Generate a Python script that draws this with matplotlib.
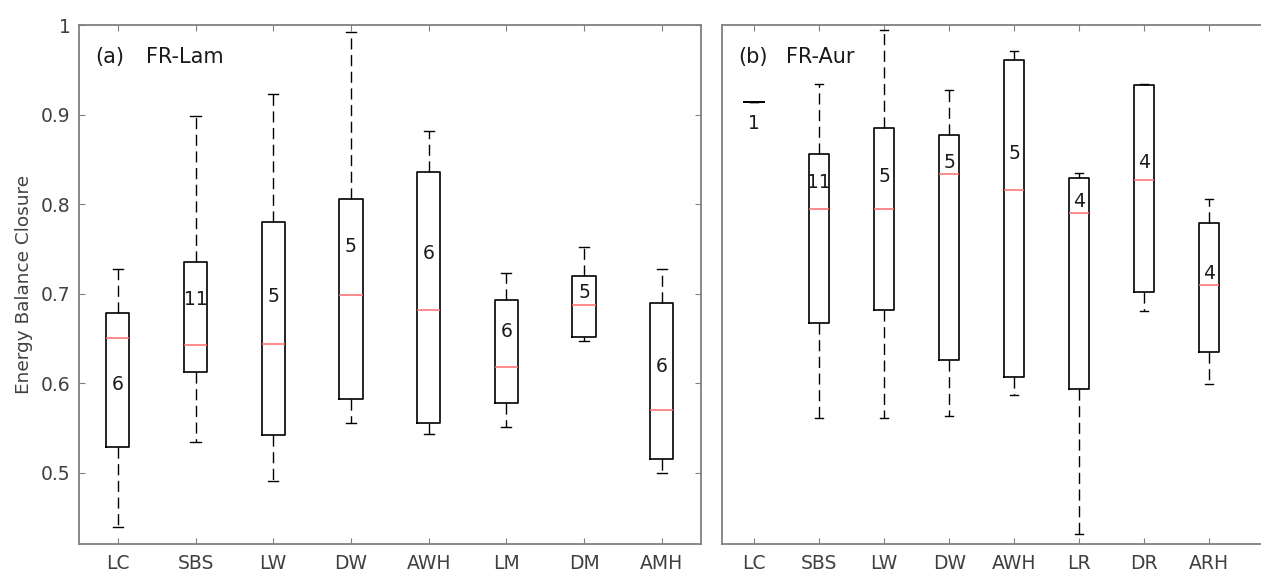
import numpy as np
import matplotlib
matplotlib.use("Agg")
import matplotlib.pyplot as plt

# (a) FR-Lam
labels_a = ["LC", "SBS", "LW", "DW", "AWH", "LM", "DM", "AMH"]
whislo_a = [0.439, 0.534, 0.491, 0.555, 0.543, 0.551, 0.647, 0.500]
q1_a     = [0.529, 0.612, 0.542, 0.582, 0.556, 0.578, 0.652, 0.515]
med_a    = [0.651, 0.643, 0.644, 0.698, 0.682, 0.618, 0.687, 0.570]
q3_a     = [0.678, 0.735, 0.780, 0.806, 0.836, 0.693, 0.720, 0.690]
whishi_a = [0.728, 0.898, 0.923, 0.992, 0.882, 0.723, 0.752, 0.728]
n_a      = [6, 11, 5, 5, 6, 6, 5, 6]
mean_a   = [0.599, 0.693, 0.697, 0.753, 0.745, 0.658, 0.701, 0.619]

# (b) FR-Aur
labels_b = ["LC", "SBS", "LW", "DW", "AWH", "LR", "DR", "ARH"]
whislo_b = [0.914, 0.561, 0.561, 0.563, 0.587, 0.432, 0.681, 0.599]
q1_b     = [0.914, 0.667, 0.682, 0.626, 0.607, 0.594, 0.702, 0.635]
med_b    = [0.914, 0.794, 0.794, 0.834, 0.816, 0.790, 0.827, 0.710]
q3_b     = [0.914, 0.856, 0.885, 0.877, 0.961, 0.829, 0.933, 0.779]
whishi_b = [0.914, 0.934, 0.995, 0.927, 0.971, 0.835, 0.934, 0.806]
n_b      = [1, 11, 5, 5, 5, 4, 4, 4]
mean_b   = [0.890, 0.824, 0.831, 0.847, 0.856, 0.803, 0.846, 0.723]

SPINE = "#808080"
TXT = "#404040"
MED = "#ff6b6b"


def make_stats(lo, q1, med, q3, hi):
    return [dict(whislo=a, q1=b, med=c, q3=d, whishi=e, fliers=[])
            for a, b, c, d, e in zip(lo, q1, med, q3, hi)]


def draw_panel(ax, stats, n, ypos, labels, black_median=()):
    for i, st in enumerate(stats):
        mcol = "black" if i in black_median else MED
        ax.bxp([st], positions=[i + 1], widths=0.3, capwidths=0.13,
               showfliers=False, manage_ticks=False,
               boxprops=dict(color="black", linewidth=1.2),
               medianprops=dict(color=mcol, linewidth=1.1),
               whiskerprops=dict(color="black", linewidth=1.0, linestyle=(0, (8, 4))),
               capprops=dict(color="black", linewidth=1.0))
        ax.text(i + 1, ypos[i], str(n[i]), ha="center", va="center",
                fontsize=13.5, color="#1a1a1a")
    ax.set_ylim(0.42, 1.0)
    ax.set_xticks(range(1, len(labels) + 1))
    ax.set_xticklabels(labels)
    ax.tick_params(direction="in", length=4, color=SPINE, labelcolor=TXT,
                   labelsize=13.5, top=True, pad=7)
    for s in ax.spines.values():
        s.set_color(SPINE)
        s.set_linewidth(1.3)


fig = plt.figure(figsize=(12.61, 5.74), dpi=100)
ax1 = fig.add_axes([0.0626, 0.0517, 0.493, 0.9047])
ax2 = fig.add_axes([0.5723, 0.0517, 0.4293, 0.9047])

draw_panel(ax1, make_stats(whislo_a, q1_a, med_a, q3_a, whishi_a), n_a, mean_a, labels_a)
ax1.set_xlim(0.5, 8.5)
ax1.set_yticks([0.5, 0.6, 0.7, 0.8, 0.9, 1.0])
ax1.set_yticklabels(["0.5", "0.6", "0.7", "0.8", "0.9", "1"])
ax1.tick_params(axis="y", right=True, pad=6)
ax1.set_ylabel("Energy Balance Closure", fontsize=13.3, color=TXT, labelpad=6)
ax1.text(0.026, 0.938, "(a)", transform=ax1.transAxes, fontsize=15,
         va="center", color="#1a1a1a")
ax1.text(0.108, 0.938, "FR-Lam", transform=ax1.transAxes, fontsize=15,
         va="center", color="#1a1a1a")

draw_panel(ax2, make_stats(whislo_b, q1_b, med_b, q3_b, whishi_b), n_b, mean_b, labels_b,
           black_median=(0,))
ax2.set_xlim(0.5, 8.83)
ax2.set_yticks([])
ax2.text(0.030, 0.938, "(b)", transform=ax2.transAxes, fontsize=15,
         va="center", color="#1a1a1a")
ax2.text(0.119, 0.938, "FR-Aur", transform=ax2.transAxes, fontsize=15,
         va="center", color="#1a1a1a")

fig.savefig("out.png", dpi=100)
